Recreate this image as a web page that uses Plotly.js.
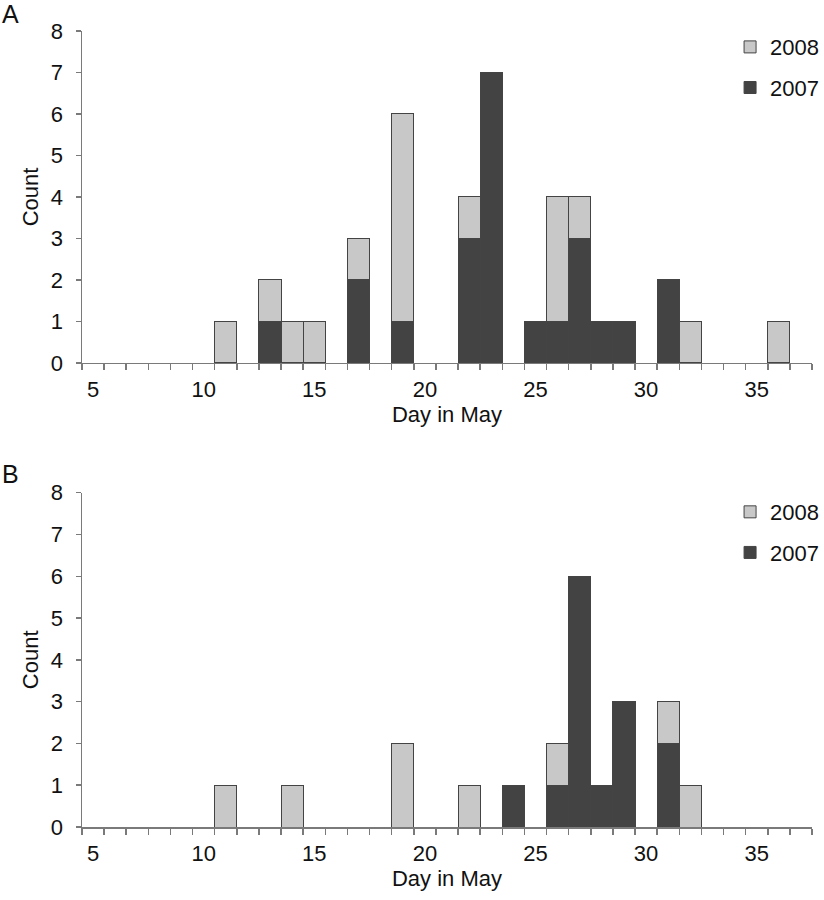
<!DOCTYPE html>
<html>
<head>
<meta charset="utf-8">
<script src="https://cdn.plot.ly/plotly-3.0.1.min.js"></script>
<style>html,body{margin:0;padding:0;background:#fff;}#chart{width:824px;height:900px;}</style>
</head>
<body>
<div id="chart"></div>
<script>
// Panel A
const daysA2007 = [13, 17, 19, 22, 23, 25, 26, 27, 28, 29, 31];
const countA2007 = [1, 2, 1, 3, 7, 1, 1, 3, 1, 1, 2];
const daysA2008 = [11, 13, 14, 15, 17, 19, 22, 26, 27, 32, 36];
const countA2008 = [1, 1, 1, 1, 1, 5, 1, 3, 1, 1, 1];
// Panel B
const daysB2007 = [24, 26, 27, 28, 29, 31];
const countB2007 = [1, 1, 6, 1, 3, 2];
const daysB2008 = [11, 14, 19, 22, 26, 31, 32];
const countB2008 = [1, 1, 2, 1, 1, 1, 1];

const xTickVals = [5, 10, 15, 20, 25, 30, 35];
const seriesNames = ['2007', '2008'];

const DARK = '#434343', LIGHT = '#c8c8c8', EDGE = '#444444', AXIS = '#7a7a7a';
const FONT = 'Liberation Sans, Arial, sans-serif';
const FS = 22;

function bar(x, y, name, color, xa, ya, leg, grp, rank) {
  return {
    type: 'bar', x: x, y: y, name: name, xaxis: xa, yaxis: ya, legend: leg,
    legendgroup: grp, legendrank: rank, width: 1,
    marker: {color: color, line: {color: EDGE, width: 1}},
    hoverinfo: 'x+y+name'
  };
}

const data = [
  bar(daysA2007, countA2007, seriesNames[0], DARK, 'x', 'y', 'legend', 'a7', 2),
  bar(daysA2008, countA2008, seriesNames[1], LIGHT, 'x', 'y', 'legend', 'a8', 1),
  bar(daysB2007, countB2007, seriesNames[0], DARK, 'x2', 'y2', 'legend2', 'b7', 2),
  bar(daysB2008, countB2008, seriesNames[1], LIGHT, 'x2', 'y2', 'legend2', 'b8', 1)
];

function xaxis(anchor) {
  return {
    anchor: anchor, range: [4.5, 37.5], tickmode: 'array', tickvals: xTickVals,
    ticks: 'outside', ticklen: 0, tickcolor: AXIS, ticklabelstandoff: 6,
    showline: true, linecolor: AXIS, linewidth: 1.5, showgrid: false, zeroline: false,
    minor: {tickmode: 'linear', tick0: 4.5, dtick: 1, ticks: 'outside', ticklen: 6, tickcolor: AXIS, tickwidth: 1.5, showgrid: false},
    tickfont: {family: FONT, size: FS, color: '#111'},
    title: {text: 'Day in May', font: {family: FONT, size: FS, color: '#111'}, standoff: 2},
    automargin: false,
    fixedrange: true
  };
}
function yaxis(domain, anchor) {
  return {
    anchor: anchor, domain: domain, range: [0, 8], tickmode: 'linear', tick0: 0, dtick: 1,
    ticks: 'outside', ticklen: 5, tickcolor: AXIS, tickwidth: 1.5, ticklabelstandoff: 8,
    showline: true, linecolor: AXIS, linewidth: 1.5, showgrid: false, zeroline: false,
    tickfont: {family: FONT, size: FS, color: '#111'},
    title: {text: 'Count', font: {family: FONT, size: FS, color: '#111'}, standoff: 6},
    automargin: false,
    fixedrange: true
  };
}

function legend(y) {
  return {
    xref: 'container', yref: 'container',
    x: 0.886, xanchor: 'left', y: y, yanchor: 'top',
    traceorder: 'grouped', tracegroupgap: 9,
    font: {family: FONT, size: FS, color: '#111'},
    itemwidth: 30, bgcolor: 'rgba(0,0,0,0)', borderwidth: 0
  };
}

const layout = {
  width: 824, height: 900,
  margin: {l: 82, r: 12, t: 31, b: 73, autoexpand: false},
  paper_bgcolor: '#fff', plot_bgcolor: '#fff',
  barmode: 'stack', bargap: 0,
  showlegend: true,
  xaxis: xaxis('y'),
  yaxis: yaxis([0.583, 1], 'x'),
  xaxis2: xaxis('y2'),
  yaxis2: yaxis([0, 0.42], 'x2'),
  legend: legend(0.971),
  legend2: legend(0.4544),
  annotations: [
    {text: 'A', xref: 'paper', yref: 'paper', x: -0.112, y: 1.042, xanchor: 'left', yanchor: 'top', showarrow: false, font: {family: FONT, size: 25, color: '#111'}},
    {text: 'B', xref: 'paper', yref: 'paper', x: -0.112, y: 0.464, xanchor: 'left', yanchor: 'top', showarrow: false, font: {family: FONT, size: 25, color: '#111'}}
  ]
};

Plotly.newPlot('chart', data, layout, {displayModeBar: false, staticPlot: true});
</script>
</body>
</html>
